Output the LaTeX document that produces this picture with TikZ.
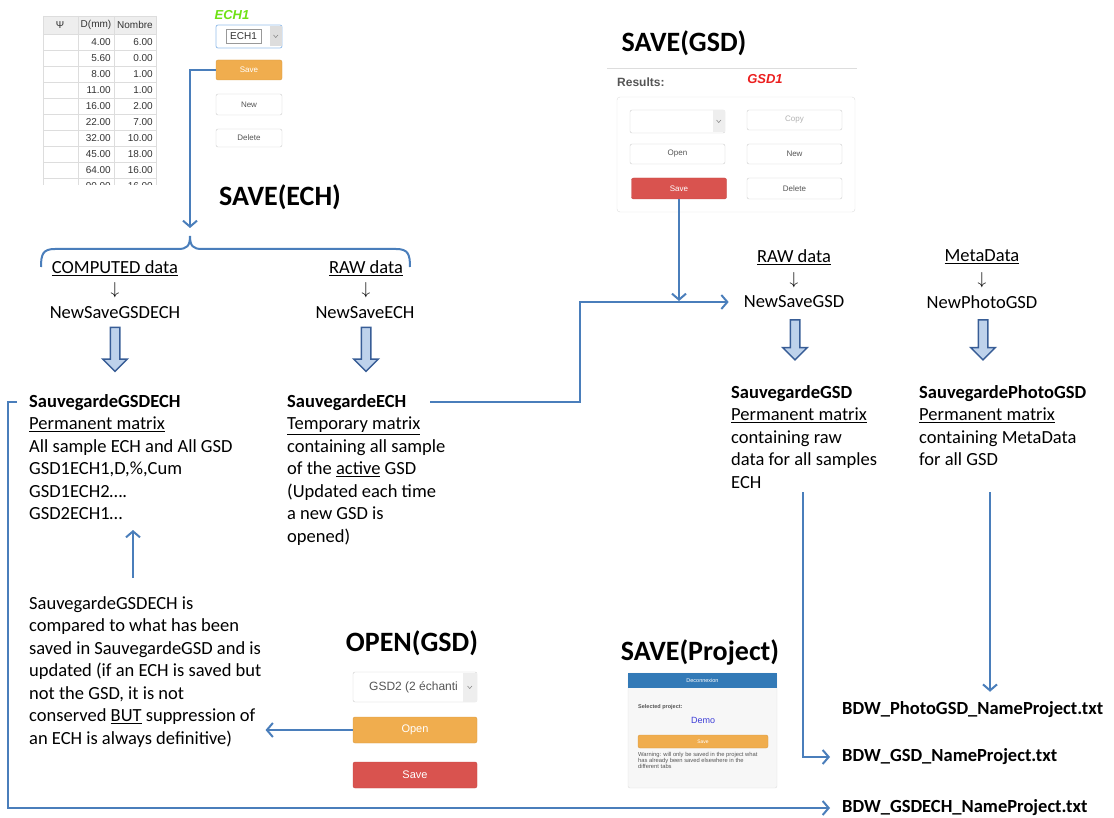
\documentclass[tikz,border=0pt]{standalone}
\usepackage{fontspec}
\setmainfont{Carlito}
\setsansfont{Liberation Sans}
\usetikzlibrary{arrows.meta,shapes.arrows,positioning}

\definecolor{linkblue}{RGB}{74,126,187}
\definecolor{fatfill}{RGB}{190,210,235}
\definecolor{fatdraw}{RGB}{56,93,150}
\definecolor{uiorange}{RGB}{240,173,78}
\definecolor{uired}{RGB}{217,83,79}
\definecolor{btnline}{RGB}{204,204,204}
\definecolor{focusblue}{RGB}{150,190,235}
\definecolor{barblue}{RGB}{51,122,183}
\definecolor{echgreen}{RGB}{110,225,20}
\definecolor{gsdred}{RGB}{235,30,30}
\definecolor{demoblue}{RGB}{60,60,215}
\definecolor{tabhead}{RGB}{238,238,238}
\definecolor{tabline}{RGB}{221,221,221}
\definecolor{uitext}{RGB}{85,85,85}

\begin{document}
\begin{tikzpicture}[x=1pt,y=-1pt]
\tikzset{txt/.style = {font=\fontsize{18.5}{22.5}\selectfont, inner sep=0pt}}
\tikzset{block/.style = {txt, align=left, anchor=north west}}
\tikzset{heading/.style = {font=\fontsize{28}{30}\selectfont\bfseries, inner sep=0pt}}
\tikzset{file/.style = {font=\fontsize{18.5}{22}\selectfont\bfseries, inner sep=0pt, anchor=west}}
\tikzset{link/.style = {draw=linkblue, line width=2pt, -{Straight Barb[length=6pt,width=14pt]}}}
\tikzset{fat/.style = {single arrow, draw=fatdraw, fill=fatfill, line width=1.5pt, rotate=-90, minimum height=44pt, inner xsep=0pt, inner ysep=4pt, single arrow head extend=7.5pt}}
\tikzset{ui/.style = {font=\sffamily\fontsize{8}{9}\selectfont, text=uitext, inner sep=0pt}}
\tikzset{btn/.style = {ui, draw=btnline, fill=white, rounded corners=2pt}}
\tikzset{btnorange/.style = {btn, draw=uiorange!90!black, fill=uiorange, text=white}}
\tikzset{btnred/.style = {btn, draw=uired!90!black, fill=uired, text=white}}
\tikzset{cell/.style = {ui, font=\sffamily\fontsize{10}{10}\selectfont, text=black!80}}
\useasboundingbox (0,0) rectangle (1114,818);

% sample table
\begin{scope}
\clip (42,15) rectangle (158,185);
\fill[tabhead] (43,16) rectangle (156,34);
\foreach \d/\n [count=\i] in {4.00/6.00,5.60/0.00,8.00/1.00,11.00/1.00,16.00/2.00,22.00/7.00,32.00/10.00,45.00/18.00,64.00/16.00,90.00/16.00}{
  \node[cell, anchor=east] (d\i) at (111,26+16*\i) {\d};
  \node[cell, anchor=east] (n\i) at (153,26+16*\i) {\n};
  \draw[tabline] (43,18+16*\i) -- (156,18+16*\i);
}
\foreach \x in {43,78,114,156}
  \draw[tabline] (\x,16) -- (\x,190);
\draw[tabline] (43,16) -- (156,16);
\end{scope}
\node[cell] (h-psi) at (60,25) {Ψ};
\node[cell] (h-d) at (96,25) {D(mm)};
\node[cell] (h-n) at (135,25) {Nombre};

% ECH widget
\node[ui, font=\sffamily\bfseries\itshape\fontsize{13}{13}\selectfont, text=echgreen] (ech-label) at (232,15) {ECH1};
\node[btn, draw=focusblue, line width=0.8pt, minimum width=66, minimum height=23] (ech-list) at (249,36.5) {};
\fill[tabline] (270,26.5) rectangle (281.5,46.5);
\draw[gray, line width=0.5pt] (273.5,35) -- (275.75,37.5) -- (278,35);
\node[ui, draw=gray!80, font=\sffamily\fontsize{10}{10}\selectfont, text=black!80, minimum width=35, minimum height=14] (ech-name) at (243.5,36) {ECH1};
\node[btnorange, minimum width=66, minimum height=20] (ech-save) at (249,70) {Save};
\node[btn, minimum width=66, minimum height=21] (ech-new) at (249,104.5) {New};
\node[btn, minimum width=66, minimum height=18] (ech-delete) at (249,138) {Delete};

\node[heading] (save-ech) at (280,197) {SAVE(ECH)};

% brace under SAVE(ECH)
\coordinate (brace-top) at (190,228);
\draw[linkblue, line width=2pt] (41,267) .. controls (41,254) and (43,249) .. (55,249) -- (178,249) .. controls (187,249) and (190,246) .. (190,236) .. controls (190,246) and (193,249) .. (202,249) -- (396,249) .. controls (408,249) and (410,254) .. (410,267);
\draw[link] (ech-save.west) -| (brace-top);

% ECH branch
\node[txt] (computed) at (115,268) {\underline{COMPUTED data}};
\node[txt] (dn1) at (115,290) {$\downarrow$};
\node[txt] (newsavegsdech) at (115,313) {NewSaveGSDECH};
\node[fat] (fat1) at (115,347) {};
\node[txt] (raw-ech) at (366,268) {\underline{RAW data}};
\node[txt] (dn2) at (366,290) {$\downarrow$};
\node[txt] (newsaveech) at (365,313) {NewSaveECH};
\node[fat] (fat2) at (366,347) {};

\node[block] (sgsdech) at (29,394) {\textbf{SauvegardeGSDECH}\\ \underline{Permanent matrix}\\ All sample ECH and All GSD\\ GSD1ECH1,D,\%,Cum\\ GSD1ECH2….\\ GSD2ECH1…};
\node[block] (sech) at (287,394) {\textbf{SauvegardeECH}\\ \underline{Temporary matrix}\\ containing all sample\\ of the \underline{active} GSD\\ (Updated each time\\ a new GSD is\\ opened)};
\node[block] (compare) at (29,596) {SauvegardeGSDECH is\\ compared to what has been\\ saved in SauvegardeGSD and is\\ updated (if an ECH is saved but\\ not the GSD, it is not\\ conserved \underline{BUT} suppression of\\ an ECH is always definitive)};

\coordinate (cmp-top) at (133,578);
\draw[link] (cmp-top) -- ++(0,-48);

% GSD panel
\node[heading] (save-gsd) at (684,43) {SAVE(GSD)};
\draw[tabline, line width=0.8pt] (607,68) -- (857,68);
\node[ui, font=\sffamily\bfseries\fontsize{12}{12}\selectfont, anchor=west] (results) at (617,82) {Results:};
\node[ui, font=\sffamily\bfseries\itshape\fontsize{13}{13}\selectfont, text=gsdred] (gsd-label) at (765,79) {GSD1};
\node[draw=tabline, rounded corners=3pt, minimum width=238, minimum height=115, inner sep=0pt] (gsd-panel) at (736,154.5) {};
\node[btn, minimum width=95, minimum height=23] (gsd-list) at (677.5,121.5) {};
\fill[tabhead] (713,110.5) rectangle (724.5,132.5);
\draw[gray, line width=0.5pt] (716.5,120) -- (718.75,122.5) -- (721,120);
\node[btn, text=gray!60, minimum width=95, minimum height=20] (gsd-copy) at (794.5,120) {Copy};
\node[btn, minimum width=95, minimum height=20] (gsd-open) at (677.5,154) {Open};
\node[btn, minimum width=95, minimum height=20] (gsd-new) at (794.5,154) {New};
\node[btnred, minimum width=95, minimum height=21] (gsd-save) at (679,188.5) {Save};
\node[btn, minimum width=95, minimum height=21] (gsd-delete) at (794.5,188.5) {Delete};

% GSD branch
\node[txt] (raw-gsd) at (794,257) {\underline{RAW data}};
\node[txt] (dn3) at (794,280) {$\downarrow$};
\node[txt] (newsavegsd) at (794,302) {NewSaveGSD};
\node[fat, minimum height=40pt] (fat3) at (795,337.5) {};
\node[txt] (meta) at (982,257) {\underline{MetaData}};
\node[txt] (dn4) at (982,280) {$\downarrow$};
\node[txt] (newphotogsd) at (982,302) {NewPhotoGSD};
\node[fat, minimum height=40pt] (fat4) at (983,337.5) {};

\node[block] (sgsd) at (731,385) {\textbf{SauvegardeGSD}\\ \underline{Permanent matrix}\\ containing raw\\ data for all samples\\ ECH};
\node[block] (sphoto) at (919,385) {\textbf{SauvegardePhotoGSD}\\ \underline{Permanent matrix}\\ containing MetaData\\ for all GSD};

\coordinate (sech-out) at (430,401.5);
\coordinate (gsd-join) at (679,301);
\draw[link] (sech-out) -- ++(150,0) |- ([xshift=-15pt]newsavegsd.west);
\draw[link] (gsd-save.south) -- (gsd-join);

% files
\node[file] (f-photo) at (842,710) {BDW\_PhotoGSD\_NameProject.txt};
\node[file] (f-gsd) at (842,757) {BDW\_GSD\_NameProject.txt};
\node[file] (f-gsdech) at (842,808) {BDW\_GSDECH\_NameProject.txt};

\coordinate (sgsd-out) at (803,492);
\coordinate (sphoto-out) at (990,492);
\coordinate (sgsdech-out) at (17,401.5);
\draw[link] (sgsd-out) |- ([xshift=-12pt]f-gsd.west);
\draw[link] (sphoto-out) -- ([yshift=10pt]sphoto-out |- f-photo.north);
\draw[link] (sgsdech-out) -- ++(-9,0) |- ([xshift=-12pt]f-gsdech.west);

% OPEN panel
\node[heading] (open-gsd) at (412,643) {OPEN(GSD)};
\node[btn, minimum width=124, minimum height=30] (og-list) at (415,687) {};
\node[ui, anchor=west, font=\sffamily\fontsize{12}{12}\selectfont] (og-name) at (369,687) {GSD2 (2 échanti};
\fill[tabhead] (463,672.5) rectangle (476.5,701.5);
\draw[gray, line width=0.5pt] (467.5,686) -- (469.75,688.5) -- (472,686);
\node[btnorange, minimum width=124, minimum height=26, font=\sffamily\fontsize{11}{11}\selectfont] (og-open) at (415,730) {Open};
\node[btnred, minimum width=124, minimum height=26, font=\sffamily\fontsize{11}{11}\selectfont] (og-save) at (415,775) {Save};
\draw[link] (og-open.west) -- ([xshift=4pt]og-open.west -| compare.east);

% Project panel
\node[heading] (save-proj) at (700,652) {SAVE(Project)};
\node[draw=tabline, fill=black!3, rounded corners=2pt, minimum width=149, minimum height=115, inner sep=0pt] (proj-panel) at (702.5,730.5) {};
\node[fill=barblue, minimum width=149, minimum height=15, inner sep=0pt, text=white, font=\sffamily\fontsize{5.5}{6}\selectfont] (proj-bar) at (702.5,680.5) {Deconnexion};
\node[ui, anchor=west, font=\sffamily\bfseries\fontsize{5.5}{6}\selectfont] (proj-sel) at (638,707) {Selected project:};
\node[ui, text=demoblue, font=\sffamily\fontsize{9}{9}\selectfont] (proj-demo) at (703,720) {Demo};
\node[btnorange, minimum width=130, minimum height=13, font=\sffamily\fontsize{5}{5}\selectfont] (proj-save) at (703,741.5) {Save};
\node[ui, anchor=north west, align=left, font=\sffamily\fontsize{5.8}{5.8}\selectfont] (proj-warn) at (638,752) {Warning: will only be saved in the project what\\ has already been saved elsewhere in the\\ different tabs};
\end{tikzpicture}
\end{document}
